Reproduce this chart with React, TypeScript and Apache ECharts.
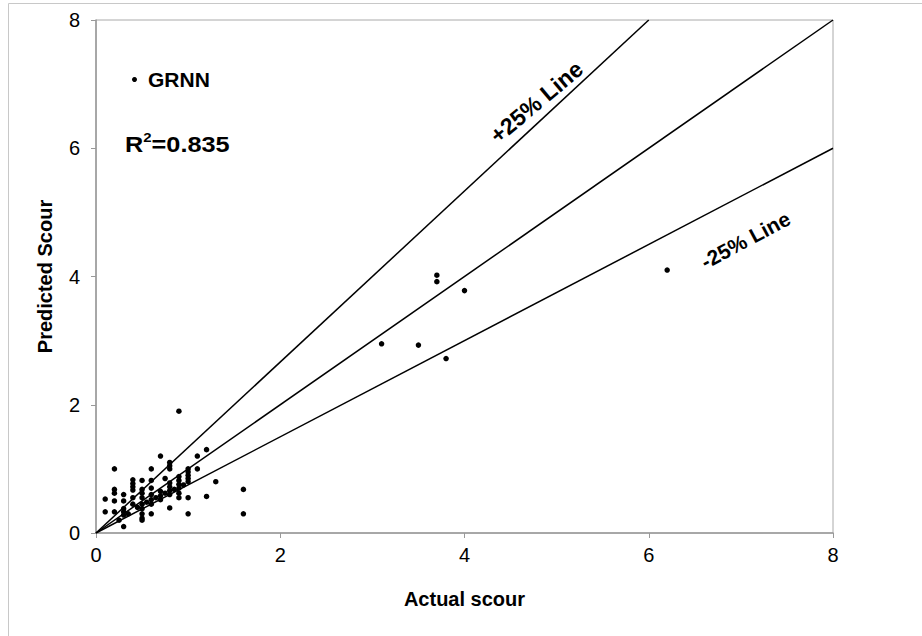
import React, { useEffect, useRef } from 'react';
import * as echarts from 'echarts';

const FONT = '"Liberation Sans", Arial, Helvetica, sans-serif';

const xTickValues = [0, 2, 4, 6, 8];
const yTickValues = [0, 2, 4, 6, 8];

// GRNN: actual vs predicted scour
const actualScour = [
  6.2, 3.7, 3.7, 4.0, 3.1, 3.5, 3.8,
  0.9, 0.7, 1.2, 1.1, 0.8, 0.8,
  0.2, 0.6, 0.8, 1.1,
  1.0, 1.0, 1.0, 1.0, 1.0,
  0.9, 0.9, 0.9, 0.9, 0.9, 0.9,
  0.8, 0.8, 0.8, 0.8,
  1.3, 1.6, 1.6, 1.2, 1.0, 1.0, 0.8, 0.6, 0.5, 0.5, 0.5, 0.3,
  0.1, 0.1, 0.2, 0.2, 0.2, 0.2, 0.3, 0.3, 0.3,
  0.4, 0.4, 0.4, 0.4, 0.4, 0.4,
  0.5, 0.5, 0.5, 0.5, 0.5, 0.5,
  0.6, 0.6, 0.6, 0.6,
  0.7, 0.7, 0.7,
  0.3, 0.35, 0.25, 0.45, 0.55, 0.65, 0.75, 0.85, 0.95,
  0.3, 0.6, 0.75,
];
const predictedScour = [
  4.1, 4.02, 3.92, 3.78, 2.95, 2.93, 2.72,
  1.9, 1.2, 1.3, 1.2, 1.1, 1.05,
  1.0, 1.0, 1.0, 1.0,
  1.0, 0.95, 0.9, 0.85, 0.8,
  0.88, 0.82, 0.76, 0.7, 0.62, 0.55,
  0.78, 0.72, 0.66, 0.6,
  0.8, 0.68, 0.3, 0.57, 0.55, 0.3, 0.39, 0.3, 0.3, 0.23, 0.2, 0.1,
  0.53, 0.33, 0.68, 0.62, 0.5, 0.33, 0.6, 0.5, 0.33,
  0.83, 0.77, 0.72, 0.67, 0.55, 0.45,
  0.82, 0.68, 0.62, 0.55, 0.45, 0.38,
  0.82, 0.6, 0.52, 0.45,
  0.65, 0.58, 0.52,
  0.28, 0.3, 0.2, 0.4, 0.48, 0.55, 0.62, 0.68, 0.75,
  0.38, 0.7, 0.85,
];

// reference lines (endpoints in data units)
const plus25Line = [[0, 0], [6, 8]];
const equalLine = [[0, 0], [8, 8]];
const minus25Line = [[0, 0], [8, 6]];

// annotation anchors (data units)
const plus25LabelAt = [4.78, 6.72];
const minus25LabelAt = [7.05, 4.57];

export default function App() {
  const ref = useRef<HTMLDivElement>(null);

  useEffect(() => {
    document.body.style.margin = '0';
    const chart = echarts.init(ref.current!, null, { renderer: 'svg' });
    const points = actualScour.map((x, i) => [x, predictedScour[i]]);
    const axisLine = { show: true, onZero: false, lineStyle: { color: '#999', width: 1.5 } };
    const axisTick = { show: true, inside: false, length: 5, lineStyle: { color: '#999', width: 1 } };
    const lineSeries = (data: number[][]) => ({
      type: 'line',
      data,
      showSymbol: false,
      symbol: 'none',
      silent: true,
      lineStyle: { color: '#000', width: 1.5 },
      z: 3,
    });
    const labelSeries = (pos: number[], text: string, rot: number, size: number) => ({
      type: 'scatter',
      data: [pos],
      symbolSize: 0,
      silent: true,
      itemStyle: { opacity: 1 },
      label: {
        show: true,
        position: 'inside',
        formatter: text,
        rotate: rot,
        fontSize: size,
        fontWeight: 'bold',
        color: '#000',
        opacity: 1,
        fontFamily: FONT,
      },
    });
    chart.setOption({
      animation: false,
      backgroundColor: '#fff',
      textStyle: { fontFamily: FONT },
      grid: {
        left: 96,
        top: 20,
        width: 737,
        height: 513,
        show: true,
        borderColor: '#aaa',
        borderWidth: 1,
        containLabel: false,
      },
      legend: {
        data: ['GRNN'],
        left: 132,
        top: 69,
        padding: 0,
        icon: 'circle',
        itemWidth: 5,
        itemHeight: 5,
        textStyle: { fontSize: 21, fontWeight: 'bold', color: '#000', fontFamily: FONT, padding: [0, 0, 0, 6] },
      },
      xAxis: {
        type: 'value',
        min: xTickValues[0],
        max: xTickValues[xTickValues.length - 1],
        interval: 2,
        name: 'Actual scour',
        nameLocation: 'middle',
        nameGap: 56,
        nameTextStyle: { fontSize: 20, fontWeight: 'bold', color: '#000', fontFamily: FONT },
        axisLine,
        axisTick,
        splitLine: { show: false },
        axisLabel: { fontSize: 20, color: '#000', margin: 12, fontFamily: FONT },
      },
      yAxis: {
        type: 'value',
        min: yTickValues[0],
        max: yTickValues[yTickValues.length - 1],
        interval: 2,
        name: 'Predicted Scour',
        nameLocation: 'middle',
        nameGap: 41,
        nameTextStyle: { fontSize: 20, fontWeight: 'bold', color: '#000', fontFamily: FONT },
        axisLine,
        axisTick,
        splitLine: { show: false },
        axisLabel: { fontSize: 20, color: '#000', margin: 16, fontFamily: FONT },
      },
      series: [
        {
          name: 'GRNN',
          type: 'scatter',
          data: points,
          symbol: 'circle',
          symbolSize: 5.5,
          itemStyle: { color: '#000', opacity: 1 },
          z: 4,
        },
        lineSeries(plus25Line),
        lineSeries(equalLine),
        lineSeries(minus25Line),
        labelSeries(plus25LabelAt, '+25% Line', 40, 23),
        labelSeries(minus25LabelAt, '-25% Line', 28, 21),
      ],
      graphic: [
        {
          type: 'rect',
          shape: { x: 8.5, y: 3.5, width: 940, height: 660 },
          style: { fill: 'none', stroke: '#c8c8c8', lineWidth: 1 },
          silent: true,
          z: -1,
        },
        {
          type: 'text',
          x: 125,
          y: 131,
          scaleX: 1.15,
          style: {
            text: '{a|R}{b|2}{a|=0.835}',
            rich: {
              a: { fontSize: 22, fontWeight: 'bold', fill: '#000', fontFamily: FONT },
              b: { fontSize: 13, fontWeight: 'bold', fill: '#000', fontFamily: FONT, padding: [0, 0, 14, 0] },
            },
          },
        },
      ],
    });
    return () => chart.dispose();
  }, []);

  return <div ref={ref} style={{ width: 922, height: 636, position: 'absolute', left: 0, top: 0 }} />;
}
